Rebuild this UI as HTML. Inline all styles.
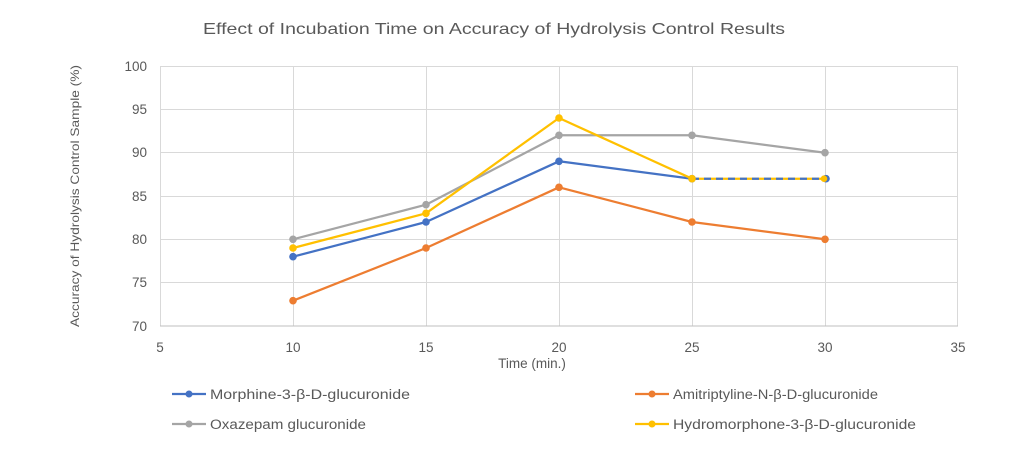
<!DOCTYPE html>
<html><head><meta charset="utf-8"><style>
html,body{margin:0;padding:0;background:#fff;}
svg{display:block;}
text{font-family:"Liberation Sans",sans-serif;fill:#595959;}
</style></head><body>
<svg width="1024" height="455" viewBox="0 0 1024 455" xmlns="http://www.w3.org/2000/svg">
<rect width="1024" height="455" fill="#fff"/>
<text x="494" y="34" font-size="16" text-anchor="middle" textLength="582" lengthAdjust="spacingAndGlyphs">Effect of Incubation Time on Accuracy of Hydrolysis Control Results</text>
<!-- grid -->
<g stroke="#d9d9d9" stroke-width="1">
<line x1="160" y1="66.5" x2="958" y2="66.5"/>
<line x1="160" y1="109.5" x2="958" y2="109.5"/>
<line x1="160" y1="152.5" x2="958" y2="152.5"/>
<line x1="160" y1="196.5" x2="958" y2="196.5"/>
<line x1="160" y1="239.5" x2="958" y2="239.5"/>
<line x1="160" y1="282.5" x2="958" y2="282.5"/>
<line x1="160.5" y1="66" x2="160.5" y2="326"/>
<line x1="293.5" y1="66" x2="293.5" y2="326"/>
<line x1="426.5" y1="66" x2="426.5" y2="326"/>
<line x1="559.5" y1="66" x2="559.5" y2="326"/>
<line x1="692.5" y1="66" x2="692.5" y2="326"/>
<line x1="825.5" y1="66" x2="825.5" y2="326"/>
<line x1="957.5" y1="66" x2="957.5" y2="326"/>
</g>
<line x1="160" y1="326" x2="958" y2="326" stroke="#bfbfbf" stroke-width="1"/>
<!-- y tick labels -->
<g font-size="13.5" text-anchor="end">
<text x="147" y="71">100</text>
<text x="147" y="114">95</text>
<text x="147" y="157">90</text>
<text x="147" y="201">85</text>
<text x="147" y="244">80</text>
<text x="147" y="287">75</text>
<text x="147" y="331">70</text>
</g>
<g font-size="13.5" text-anchor="middle">
<text x="160" y="352">5</text>
<text x="293" y="352">10</text>
<text x="426" y="352">15</text>
<text x="559" y="352">20</text>
<text x="692" y="352">25</text>
<text x="825" y="352">30</text>
<text x="958" y="352">35</text>
</g>
<text x="532" y="368" font-size="13.5" text-anchor="middle">Time (min.)</text>
<text transform="translate(79,196) rotate(-90)" font-size="12" text-anchor="middle" textLength="262" lengthAdjust="spacingAndGlyphs">Accuracy of Hydrolysis Control Sample (%)</text>
<!-- series -->
<g fill="none" stroke-width="2.25" stroke-linejoin="round">
<polyline stroke="#A5A5A5" points="293,239.3 426,204.7 559,135.3 692,135.3 825,152.7"/>
<polyline stroke="#ED7D31" points="293,300.7 426,248 559,187.3 692,222 825,239.3"/>
<polyline stroke="#4472C4" points="293,256.7 426,222 559,161.3 692,178.7"/>
<polyline stroke="#FFC000" points="293,248 426,213.3 559,118 692,178.7"/>
<line x1="692" y1="178.7" x2="825" y2="178.7" stroke="#FFC000"/>
<line x1="692" y1="178.7" x2="825" y2="178.7" stroke="#4472C4" stroke-dasharray="7,5"/>
</g>
<g>
<g fill="#A5A5A5">
<circle cx="293" cy="239.3" r="3.8"/><circle cx="426" cy="204.7" r="3.8"/><circle cx="559" cy="135.3" r="3.8"/><circle cx="692" cy="135.3" r="3.8"/><circle cx="825" cy="152.7" r="3.8"/>
</g>
<g fill="#ED7D31">
<circle cx="293" cy="300.7" r="3.8"/><circle cx="426" cy="248" r="3.8"/><circle cx="559" cy="187.3" r="3.8"/><circle cx="692" cy="222" r="3.8"/><circle cx="825" cy="239.3" r="3.8"/>
</g>
<g fill="#4472C4">
<circle cx="293" cy="256.7" r="3.8"/><circle cx="426" cy="222" r="3.8"/><circle cx="559" cy="161.3" r="3.8"/><circle cx="692" cy="178.7" r="3.8"/><circle cx="826" cy="178.7" r="3.8"/>
</g>
<g fill="#FFC000">
<circle cx="293" cy="248" r="3.8"/><circle cx="426" cy="213.3" r="3.8"/><circle cx="559" cy="118" r="3.8"/><circle cx="692" cy="178.7" r="3.8"/><circle cx="824" cy="178.7" r="3.3"/>
</g>
</g>
<!-- legend -->
<g stroke-width="2.25">
<line x1="172" y1="394" x2="206" y2="394" stroke="#4472C4"/>
<line x1="635" y1="394" x2="669" y2="394" stroke="#ED7D31"/>
<line x1="172" y1="424" x2="206" y2="424" stroke="#A5A5A5"/>
<line x1="635" y1="424" x2="669" y2="424" stroke="#FFC000"/>
</g>
<circle cx="189" cy="394" r="3.5" fill="#4472C4"/>
<circle cx="652" cy="394" r="3.5" fill="#ED7D31"/>
<circle cx="189" cy="424" r="3.5" fill="#A5A5A5"/>
<circle cx="652" cy="424" r="3.5" fill="#FFC000"/>
<g font-size="13.5">
<text x="210" y="399" textLength="200" lengthAdjust="spacingAndGlyphs">Morphine-3-β-D-glucuronide</text>
<text x="673" y="399" textLength="205" lengthAdjust="spacingAndGlyphs">Amitriptyline-N-β-D-glucuronide</text>
<text x="210" y="429" textLength="156" lengthAdjust="spacingAndGlyphs">Oxazepam glucuronide</text>
<text x="673" y="429" textLength="243" lengthAdjust="spacingAndGlyphs">Hydromorphone-3-β-D-glucuronide</text>
</g>
</svg>
</body></html>
